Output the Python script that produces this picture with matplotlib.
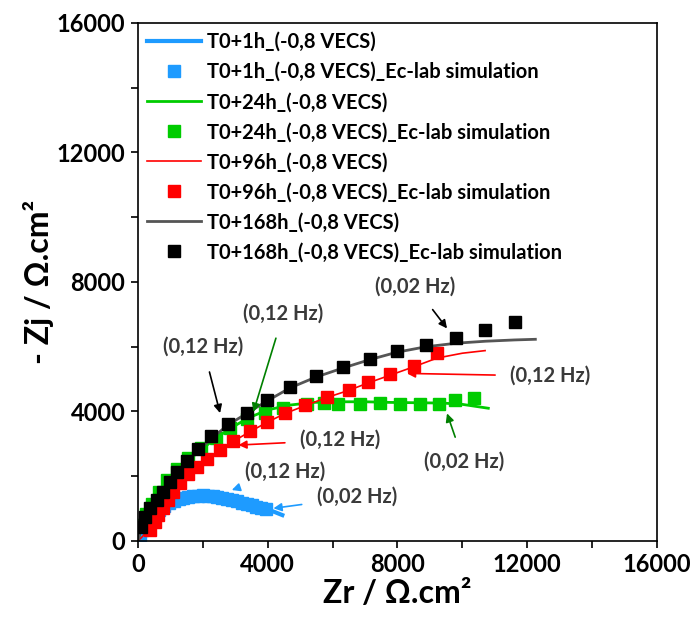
import matplotlib
matplotlib.use("Agg")
import matplotlib.pyplot as plt

plt.rcParams['font.family'] = ['Lato', 'DejaVu Sans']

# measured curves (Zr, -Zj) in ohm.cm2
x_1h = [0, 100, 250, 450, 700, 1000, 1300, 1600, 2000, 2400, 2800, 3200, 3600, 3900, 4200, 4450]
y_1h = [0, 300, 550, 800, 1000, 1180, 1300, 1380, 1420, 1400, 1320, 1200, 1080, 1000, 900, 800]
x_24h = [0, 100, 250, 450, 700, 1000, 1400, 1800, 2300, 2800, 3400, 4000, 4700, 5400, 6200, 7000, 7800, 8600, 9400, 10000, 10800]
y_24h = [0, 420, 800, 1180, 1550, 1950, 2350, 2700, 3100, 3450, 3800, 4050, 4200, 4280, 4300, 4300, 4280, 4270, 4260, 4220, 4100]
x_96h = [0, 150, 370, 525, 780, 1090, 1550, 2120, 2530, 2940, 3460, 3970, 4540, 5150, 5820, 6490, 7090, 7770, 8500, 9220, 10000, 10700]
y_96h = [0, 150, 400, 620, 1000, 1500, 2050, 2500, 2800, 3080, 3380, 3660, 3940, 4180, 4430, 4650, 4880, 5120, 5380, 5650, 5800, 5880]
x_168h = [0, 100, 220, 370, 580, 780, 990, 1500, 1860, 2270, 2770, 3350, 3990, 4690, 5480, 6310, 7140, 7980, 8880, 9820, 10710, 11610, 12250]
y_168h = [0, 420, 730, 990, 1250, 1500, 1810, 2450, 2800, 3170, 3580, 3940, 4330, 4730, 5060, 5340, 5600, 5830, 6000, 6110, 6170, 6210, 6230]

# Ec-lab simulation points
sx_1h = [60, 120, 200, 300, 400, 520, 650, 800, 950, 1100, 1250, 1400, 1550, 1700, 1850, 2000, 2150, 2300,
         2450, 2600, 2750, 2900, 3050, 3200, 3350, 3500, 3650, 3800, 3950]
sy_1h = [200, 330, 480, 620, 740, 860, 970, 1070, 1160, 1230, 1290, 1340, 1370, 1390, 1400, 1405, 1400, 1390,
         1370, 1340, 1300, 1260, 1220, 1180, 1140, 1100, 1060, 1030, 1000]
sx_24h = [120, 250, 420, 650, 900, 1200, 1550, 1950, 2400, 2850, 3350, 3920, 4480, 5200, 5720, 6180, 6850,
          7470, 8090, 8700, 9270, 9780, 10350]
sy_24h = [480, 820, 1150, 1520, 1880, 2220, 2560, 2860, 3180, 3480, 3760, 3950, 4100, 4240, 4260, 4230, 4230,
          4250, 4230, 4230, 4230, 4350, 4430]
sx_96h = [370, 525, 627, 782, 936, 1091, 1296, 1554, 1810, 2119, 2531, 2942, 3457, 3971, 4537, 5154, 5823,
          6491, 7089, 7778, 8497, 9218]
sy_96h = [340, 596, 802, 1009, 1265, 1522, 1780, 2068, 2294, 2521, 2809, 3096, 3405, 3682, 3960, 4198, 4454,
          4660, 4907, 5145, 5401, 5793]
sx_168h = [93, 216, 370, 576, 782, 988, 1194, 1502, 1862, 2253, 2788, 3355, 3992, 4691, 5484, 6306, 7140,
           7984, 8879, 9815, 10710, 11614]
sy_168h = [441, 750, 1009, 1265, 1522, 1831, 2140, 2469, 2830, 3241, 3611, 3960, 4352, 4763, 5093, 5361, 5617,
           5864, 6049, 6275, 6502, 6749]

fig = plt.figure(figsize=(6.94, 6.30), dpi=100)
ax = fig.add_axes([0.1988, 0.1413, 0.7479, 0.8222])

ax.plot(x_1h, y_1h, color='#1e9bff', lw=3, label='T0+1h_(-0,8 VECS)')
ax.plot(sx_1h, sy_1h, 's', color='#1e9bff', ms=8, label='T0+1h_(-0,8 VECS)_Ec-lab simulation')
ax.plot(x_24h, y_24h, color='#00cc00', lw=2, label='T0+24h_(-0,8 VECS)')
ax.plot(sx_24h, sy_24h, 's', color='#00cc00', ms=8, label='T0+24h_(-0,8 VECS)_Ec-lab simulation')
ax.plot(x_96h, y_96h, color='#ff0000', lw=1.2, label='T0+96h_(-0,8 VECS)')
ax.plot(sx_96h, sy_96h, 's', color='#ff0000', ms=8, label='T0+96h_(-0,8 VECS)_Ec-lab simulation')
ax.plot(x_168h, y_168h, color='#555555', lw=2, label='T0+168h_(-0,8 VECS)')
ax.plot(sx_168h, sy_168h, 's', color='black', ms=8.5, label='T0+168h_(-0,8 VECS)_Ec-lab simulation')

# frequency annotations
txt = dict(fontsize=14.5, color='#3a3a3a', fontweight='bold')
def note(s, tip, pos, col, ha='center'):
    ax.annotate(s, xy=tip, xytext=pos, ha=ha, va='center', **txt,
                arrowprops=dict(arrowstyle='-|>', color=col, lw=1.2, mutation_scale=12,
                                shrinkA=9, shrinkB=0))

note('(0,12 Hz)', (2531, 3950), (2006, 5988), 'black')
note('(0,12 Hz)', (3560, 3990), (4485, 7028), 'green')
note('(0,02 Hz)', (9527, 6565), (8549, 7849), 'black')
note('(0,12 Hz)', (8293, 5176), (11481, 5093), 'red', ha='left')
note('(0,02 Hz)', (9527, 3941), (10040, 2448), 'green')
note('(0,12 Hz)', (3096, 2963), (5000, 3117), 'red', ha='left')
note('(0,12 Hz)', (2892, 1574), (4537, 2139), '#1e9bff')
note('(0,02 Hz)', (4176, 1009), (5515, 1358), '#1e9bff', ha='left')

ax.set_xlim(0, 16000)
ax.set_ylim(0, 16000)
ax.set_xticks([0, 4000, 8000, 12000, 16000])
ax.set_yticks([0, 4000, 8000, 12000, 16000])
ax.set_xticks(range(0, 16001, 2000), minor=True)
ax.set_yticks(range(0, 16001, 2000), minor=True)
ax.tick_params(which='both', direction='out', length=5, width=1.2, top=False, right=False)
ax.tick_params(labelsize=17, pad=4)
for lab in ax.get_xticklabels() + ax.get_yticklabels():
    lab.set_fontweight('bold')
for sp in ax.spines.values():
    sp.set_linewidth(1.2)

ax.set_xlabel('Zr / Ω.cm²', fontsize=23, fontweight='bold', labelpad=2)
ax.set_ylabel('- Zj / Ω.cm²', fontsize=23, fontweight='bold', labelpad=2)

ax.legend(loc='upper left', frameon=False, prop={'size': 14.5, 'weight': 'bold'},
          handlelength=2.7, handletextpad=0.3, labelspacing=0.5, borderaxespad=0.1,
          borderpad=0.35)

fig.savefig('out.png', dpi=100)
